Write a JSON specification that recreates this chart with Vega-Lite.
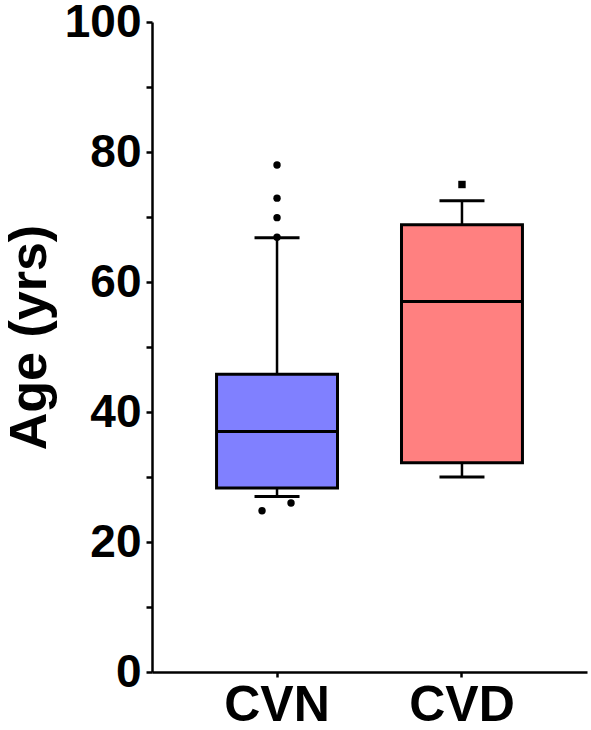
{
  "$schema": "https://vega.github.io/schema/vega-lite/v6.json",
  "width": 435,
  "height": 650,
  "autosize": {"type": "none"},
  "padding": {"left": 152, "top": 22, "right": 4, "bottom": 58},
  "background": "white",
  "config": {
    "view": {"stroke": null},
    "font": "Liberation Sans"
  },
  "datasets": {
    "boxes": [
      {"group": "CVN", "lower": 27, "q1": 28.3, "median": 37, "q3": 45.8, "upper": 66.8},
      {"group": "CVD", "lower": 30, "q1": 32.2, "median": 57, "q3": 68.8, "upper": 72.5}
    ],
    "outliers": [
      {"group": "CVN", "age": 78, "side": "mid"},
      {"group": "CVN", "age": 72.9, "side": "mid"},
      {"group": "CVN", "age": 69.9, "side": "mid"},
      {"group": "CVN", "age": 66.9, "side": "mid"},
      {"group": "CVN", "age": 26, "side": "right"},
      {"group": "CVN", "age": 24.8, "side": "left"},
      {"group": "CVD", "age": 75, "side": "mid"}
    ]
  },
  "encoding": {
    "x": {
      "field": "group",
      "type": "nominal",
      "sort": ["CVN", "CVD"],
      "scale": {"domain": ["CVN", "CVD"], "paddingInner": 0.346, "paddingOuter": 0.349},
      "axis": {
        "title": null,
        "labelAngle": 0,
        "labelFont": "Liberation Sans",
        "labelFontWeight": "bold",
        "labelFontSize": 50,
        "labelColor": "black",
        "labelPadding": 3,
        "domainColor": "black",
        "domainWidth": 2.5,
        "tickColor": "black",
        "tickWidth": 2.5,
        "tickSize": 5
      }
    }
  },
  "layer": [
    {
      "data": {"name": "boxes"},
      "mark": {"type": "rule", "color": "black", "strokeWidth": 2.5},
      "encoding": {
        "y": {
          "field": "lower",
          "type": "quantitative",
          "scale": {"domain": [0, 100], "nice": false},
          "axis": {
            "title": "Age (yrs)",
            "titleFont": "Liberation Sans",
            "titleFontWeight": "bold",
            "titleFontSize": 52,
            "titleColor": "black",
            "titlePadding": 8,
            "titleY": 315,
            "values": [0, 10, 20, 30, 40, 50, 60, 70, 80, 90, 100],
            "labelExpr": "datum.value % 20 === 0 ? datum.label : ''",
            "labelFont": "Liberation Sans",
            "labelFontWeight": "bold",
            "labelFontSize": 46,
            "labelColor": "black",
            "labelPadding": 5,
            "grid": false,
            "domainColor": "black",
            "domainWidth": 2.5,
            "tickColor": "black",
            "tickWidth": 2.5,
            "tickSize": 6
          }
        },
        "y2": {"field": "upper"}
      }
    },
    {
      "data": {"name": "boxes"},
      "mark": {"type": "tick", "color": "black", "opacity": 1, "size": 45, "thickness": 3},
      "encoding": {"y": {"field": "upper", "type": "quantitative"}}
    },
    {
      "data": {"name": "boxes"},
      "mark": {"type": "tick", "color": "black", "opacity": 1, "size": 45, "thickness": 3},
      "encoding": {"y": {"field": "lower", "type": "quantitative"}}
    },
    {
      "data": {"name": "boxes"},
      "mark": {"type": "bar", "stroke": "black", "strokeWidth": 3, "opacity": 1},
      "encoding": {
        "y": {"field": "q1", "type": "quantitative"},
        "y2": {"field": "q3"},
        "fill": {
          "field": "group",
          "type": "nominal",
          "scale": {"domain": ["CVN", "CVD"], "range": ["#8080FF", "#FF8080"]},
          "legend": null
        }
      }
    },
    {
      "data": {"name": "boxes"},
      "mark": {"type": "tick", "color": "black", "opacity": 1, "size": 121, "thickness": 3},
      "encoding": {"y": {"field": "median", "type": "quantitative"}}
    },
    {
      "data": {"name": "outliers"},
      "mark": {
        "type": "point",
        "filled": true,
        "color": "black",
        "size": 55,
        "opacity": 1,
        "xOffset": {"expr": "datum.side === 'left' ? -15 : datum.side === 'right' ? 14 : 0"}
      },
      "encoding": {
        "y": {"field": "age", "type": "quantitative"},
        "shape": {
          "field": "group",
          "type": "nominal",
          "scale": {"domain": ["CVN", "CVD"], "range": ["circle", "square"]},
          "legend": null
        }
      }
    }
  ]
}
